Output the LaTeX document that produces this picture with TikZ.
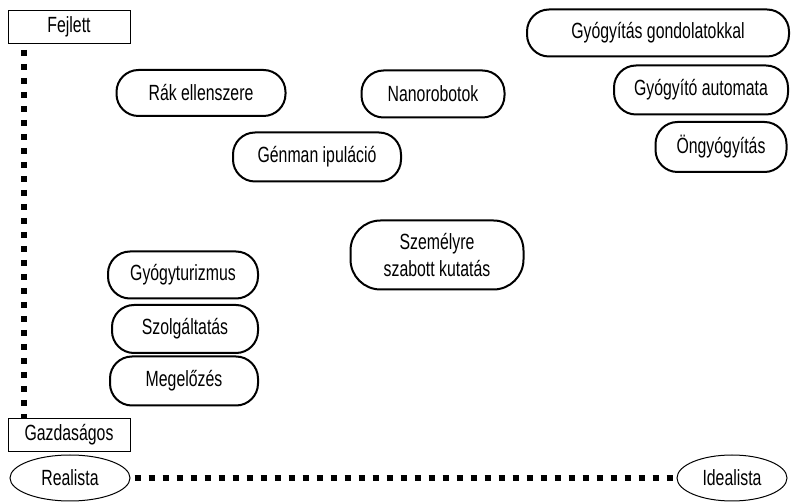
\documentclass[tikz,border=0pt]{standalone}
\usepackage{fontspec}
\setmainfont{Liberation Sans}[FakeStretch=0.72]
\usetikzlibrary{shapes.geometric}
\begin{document}
\begin{tikzpicture}[x=1pt,y=-1pt,
  pill/.style={draw,line width=2pt,rounded corners=22pt,inner sep=0pt,align=center,font=\fontsize{22}{27}\selectfont},
  axbox/.style={draw,line width=1pt,inner sep=0pt,font=\fontsize{22}{26}\selectfont,minimum width=122pt,minimum height=33pt},
  pole/.style={draw,ellipse,line width=1pt,inner sep=0pt,font=\fontsize{22}{26}\selectfont},
  dots/.style={line width=6pt,dash pattern=on 6pt off 8pt}]
\useasboundingbox (0,0) rectangle (793,502);
\node[axbox] (fej) at (69,27) {Fejlett};
\node[axbox] (gaz) at (69,435) {Gazdaságos};
\node[pole,minimum width=120pt,minimum height=46pt] (rea) at (70,478) {Realista};
\node[pole,minimum width=110pt,minimum height=46pt] (ide) at (732,478) {Idealista};
\draw[dots] ([yshift=-6pt]fej.south -| 24,0) coordinate (v1) -- (gaz.north -| 24,0);
\draw[dots] ([xshift=4pt]rea.east) -- (ide.west);
\node[pill,minimum width=169pt,minimum height=46pt] (rak) at (201,93) {Rák ellenszere};
\node[pill,minimum width=143pt,minimum height=47pt] (nano) at (433,94) {Nanorobotok};
\node[pill,minimum width=168pt,minimum height=49pt] (gen) at (317,157) {Génman ipuláció};
\node[pill,minimum width=262pt,minimum height=47pt] (gond) at (658,33) {Gyógyítás gondolatokkal};
\node[pill,minimum width=174pt,minimum height=49pt] (auto) at (701,90) {Gyógyító automata};
\node[pill,minimum width=131pt,minimum height=50pt] (ong) at (721,147) {Öngyógyítás};
\node[pill,minimum width=173pt,minimum height=69pt,rounded corners=30pt] (szem) at (437,255) {Személyre\\szabott kutatás};
\node[pill,minimum width=150pt,minimum height=47pt] (tur) at (183,275) {Gyógyturizmus};
\node[pill,minimum width=146pt,minimum height=48pt] (szol) at (185,329) {Szolgáltatás};
\node[pill,minimum width=148pt,minimum height=49pt] (meg) at (184,381) {Megelőzés};
\end{tikzpicture}
\end{document}
